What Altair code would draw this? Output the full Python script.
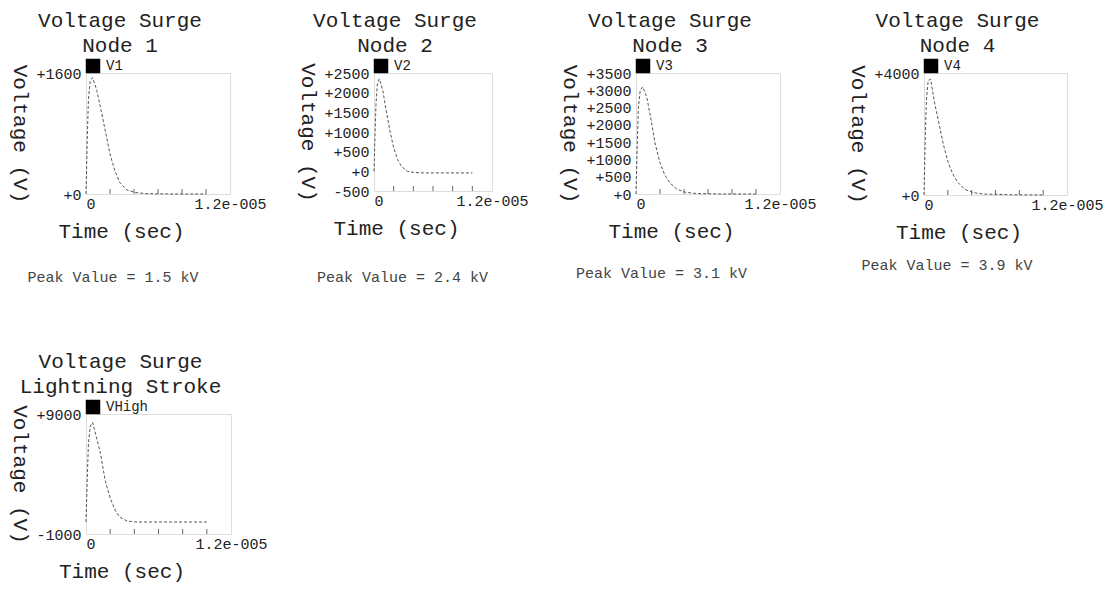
import altair as alt
import pandas as pd

MONO = "Liberation Mono"

# time samples (s)
times = [0, 0.1e-6, 0.2e-6, 0.35e-6, 0.55e-6, 0.9e-6, 1.2e-6, 1.6e-6, 2.0e-6,
         2.4e-6, 2.8e-6, 3.4e-6, 4.1e-6, 5.0e-6, 7.0e-6, 10.0e-6]

v1 = [0, 700, 1250, 1490, 1540, 1370, 1150, 840, 530, 310, 155, 55, 20, 5, 0, 0]
v2 = [0, 900, 1700, 2250, 2350, 2050, 1600, 1050, 600, 300, 120, 0, -30, -40, -40, -40]
v3 = [0, 1400, 2500, 3000, 3100, 2800, 2250, 1450, 900, 550, 330, 140, 50, 15, 0, 0]
v4 = [0, 1800, 3100, 3750, 3800, 3000, 2450, 1700, 1100, 700, 430, 190, 80, 30, 10, 0]
v5 = [0, 3500, 6500, 8000, 8300, 6900, 5700, 3400, 2000, 1000, 400, 80, 0, 0, 0, 0]

series_names = ["V1", "V2", "V3", "V4", "VHigh"]
subtitles = ["Node 1", "Node 2", "Node 3", "Node 4", "Lightning Stroke"]
y_domains = [[0, 1600], [-500, 2500], [0, 3500], [0, 4000], [-1000, 9000]]
y_ticks = [[0, 1600],
           [-500, 0, 500, 1000, 1500, 2000, 2500],
           [0, 500, 1000, 1500, 2000, 2500, 3000, 3500],
           [0, 4000],
           [-1000, 9000]]
peak_labels = ["Peak Value = 1.5 kV", "Peak Value = 2.4 kV",
               "Peak Value = 3.1 kV", "Peak Value = 3.9 kV", ""]
x_ticks = [2e-6, 4e-6, 6e-6, 8e-6, 10e-6]
x_domain = [0, 1.2e-5]


def panel(vals, name, sub, ydom, yt, peak, w, h, peak_dx, peak_y):
    df = pd.DataFrame({"t": times, "v": vals})
    xenc = alt.X(
        "t:Q",
        scale=alt.Scale(domain=x_domain, nice=False, zero=False),
        axis=alt.Axis(
            values=x_domain,
            labelExpr="datum.value == 0 ? '0' : '1.2e-005'",
            labelAlign={"condition": {"test": "datum.value == 0", "value": "left"}, "value": "center"},
            labelFont=MONO, labelFontSize=15, labelColor="#222", labelPadding=2,
            ticks=False, domain=False, grid=False,
            title="Time (sec)", titleFont=MONO, titleFontSize=21, titleFontWeight="normal",
            titleColor="#222", titleX=w / 2 - 37, titleY=37, titleAlign="center",
            titleBaseline="middle",
        ),
    )
    yenc = alt.Y(
        "v:Q",
        scale=alt.Scale(domain=ydom, nice=False, zero=False),
        axis=alt.Axis(
            values=yt,
            labelExpr="(datum.value >= 0 ? '+' : '') + datum.value",
            labelFont=MONO, labelFontSize=15, labelColor="#222", labelPadding=5,
            ticks=False, domain=False, grid=False,
            title="Voltage (V)", titleFont=MONO, titleFontSize=21, titleFontWeight="normal",
            titleColor="#222", titleAngle=90, titleX=-67, titleY=h / 2,
            titleAlign="center", titleBaseline="middle",
        ),
    )
    line = alt.Chart(df).mark_line(color="#555", strokeWidth=1, strokeDash=[3, 2]).encode(
        x=xenc, y=yenc
    )
    tk = alt.Chart(pd.DataFrame({"t": x_ticks})).mark_rule(color="#666", strokeWidth=1).encode(
        x="t:Q", y=alt.value(h), y2=alt.value(h - 5)
    )
    lg = pd.DataFrame({"name": [name]})
    sq = alt.Chart(lg).mark_square(size=210, color="black", opacity=1).encode(
        x=alt.value(7), y=alt.value(-7)
    )
    lt = alt.Chart(lg).mark_text(align="left", baseline="middle", font=MONO, fontSize=14,
                                 color="#222").encode(
        x=alt.value(20), y=alt.value(-7), text="name:N"
    )
    layers = [line, tk, sq, lt]
    if peak:
        pk = alt.Chart(pd.DataFrame({"label": [peak]})).mark_text(
            align="center", baseline="middle", font=MONO, fontSize=15, color="#444"
        ).encode(x=alt.value(peak_dx), y=alt.value(peak_y), text="label:N")
        layers.append(pk)
    return alt.layer(*layers).properties(
        width=w, height=h,
        title=alt.TitleParams(
            text=["Voltage Surge", sub], font=MONO, fontSize=21, fontWeight="normal",
            color="#222", anchor="middle", frame="group", dx=-38, offset=3, lineHeight=25,
        ),
    )


p1 = panel(v1, series_names[0], subtitles[0], y_domains[0], y_ticks[0], peak_labels[0], 144, 121, 27, 204)
p2 = panel(v2, series_names[1], subtitles[1], y_domains[1], y_ticks[1], peak_labels[1], 118, 118, 28.5, 203.5)
p3 = panel(v3, series_names[2], subtitles[2], y_domains[2], y_ticks[2], peak_labels[2], 144, 121, 25.5, 200)
p4 = panel(v4, series_names[3], subtitles[3], y_domains[3], y_ticks[3], peak_labels[3], 143, 122, 23, 192)
p5 = panel(v5, series_names[4], subtitles[4], y_domains[4], y_ticks[4], peak_labels[4], 145, 120, 0, 0)

row1 = alt.hconcat(p1, p2, p3, p4, spacing=144, bounds="flush")
chart = alt.vconcat(row1, p5, spacing=341, bounds="flush").properties(
    padding={"left": 0, "top": 1, "right": 0, "bottom": 0}
).configure_view(stroke="#777", strokeWidth=1).configure(background="white")

chart.save("out.html", embed_options={"renderer": "svg", "actions": False})
